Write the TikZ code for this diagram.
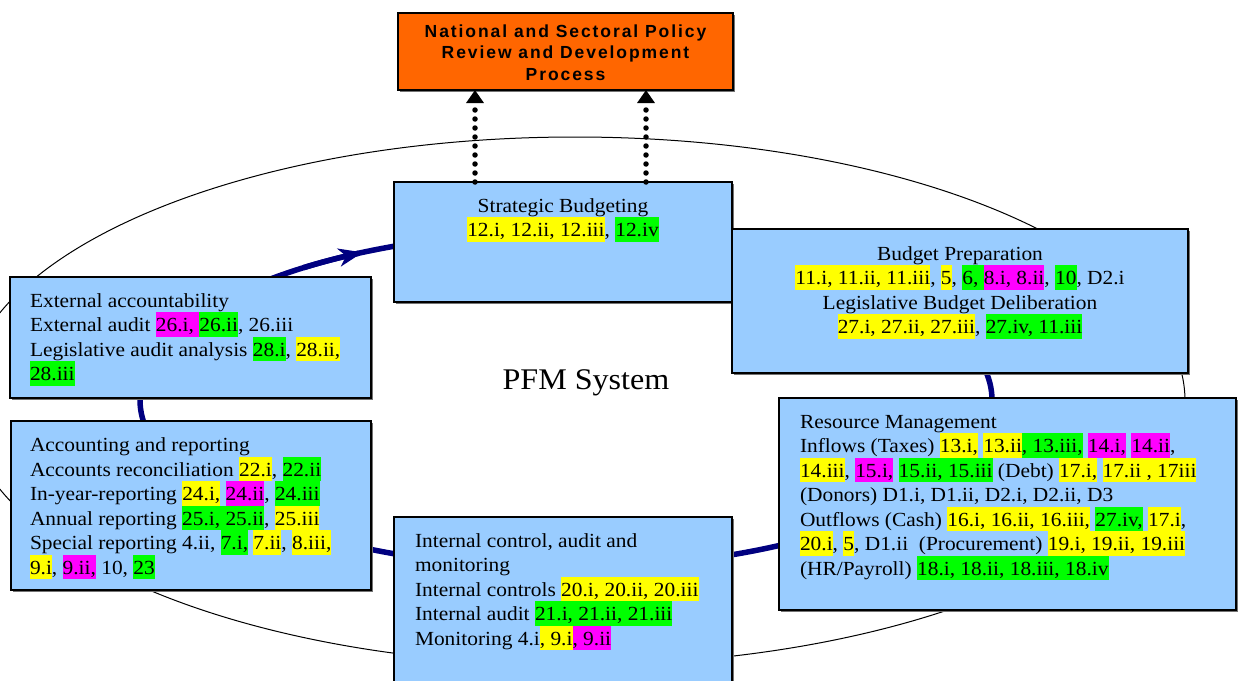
\documentclass[tikz,border=0pt]{standalone}
\usepackage{fontspec}
\setmainfont{Liberation Serif}[FakeStretch=1.07]
\newfontfamily\headfont{Liberation Sans}[LetterSpace=11]
\usetikzlibrary{arrows.meta,shadows}
\definecolor{boxblue}{HTML}{99CCFF}
\definecolor{orangebox}{HTML}{FF6600}
\definecolor{navyring}{HTML}{000080}
\definecolor{hyel}{HTML}{FFFF00}
\definecolor{hgrn}{HTML}{00FF00}
\definecolor{hmag}{HTML}{FF00FF}
\newcommand\st{\rule[-5pt]{0pt}{24.5pt}}
\newcommand\hy[1]{{\setlength{\fboxsep}{0pt}\colorbox{hyel}{\st#1}}}
\newcommand\hg[1]{{\setlength{\fboxsep}{0pt}\colorbox{hgrn}{\st#1}}}
\newcommand\hm[1]{{\setlength{\fboxsep}{0pt}\colorbox{hmag}{\st#1}}}
\begin{document}
\begin{tikzpicture}[x=1pt,y=-1pt,
  box/.style={draw=black, line width=1.6pt, fill=boxblue, inner sep=0pt, outer sep=0pt, anchor=north west,
    drop shadow={shadow xshift=1.5pt, shadow yshift=-1.5pt, fill=black!55, opacity=1}},
  hbox/.style={box, fill=orangebox},
  txt/.style={inner sep=0pt, outer sep=0pt, font=\fontsize{20}{24.5}\selectfont},
  ring/.style={draw=navyring, line width=5.5pt},
  dotarrow/.style={line width=5.5pt, line cap=round, dash pattern=on 0pt off 9pt,
    -{Triangle[width=17pt,length=13pt]}}]
\useasboundingbox (0,0) rectangle (1238,680);
\clip (0,0) rectangle (1238,680);
% outer thin ellipse and inner ring
\draw[line width=1pt] (575,401) ellipse [x radius=610, y radius=264];
\draw[ring] (566,400) ellipse [x radius=426, y radius=168];
\draw[ring, -{Stealth[length=24pt,width=18pt,inset=7pt]}]
  plot[domain=128:118.5, samples=12, smooth] ({566+426*cos(\x)},{400-168*sin(\x)});
% boxes
\node[hbox, minimum width=335pt, minimum height=77pt] (op) at (398,13) {};
\node[box, minimum width=338pt, minimum height=120pt] (sb) at (394,182) {};
\node[box, minimum width=456pt, minimum height=144pt] (bp) at (732,229) {};
\node[box, minimum width=361pt, minimum height=121pt] (ea) at (10,277) {};
\node[box, minimum width=360pt, minimum height=169pt] (ar) at (11,421) {};
\node[box, minimum width=338pt, minimum height=190pt] (ic) at (394,517) {};
\node[box, minimum width=457pt, minimum height=212pt] (rm) at (779,398) {};
% dotted arrows
\coordinate (d1) at (475,0);
\coordinate (d2) at (646,0);
\draw[dotarrow] (sb.north -| d1) -- (op.south -| d1);
\draw[dotarrow] (sb.north -| d2) -- (op.south -| d2);
% texts
\node[inner sep=0pt, anchor=north, align=center, font=\headfont\bfseries\fontsize{17.5}{21.5}\selectfont] (opT) at (565.5,24)
  {\rule{0pt}{13pt}National and Sectoral Policy\\Review and Development\\Process};
\node[txt, anchor=north, align=center] (sbT) at (563,192.5)
  {\st Strategic Budgeting\\\st\hy{12.i, 12.ii, 12.iii}, \hg{12.iv}};
\node[txt, anchor=north, align=center] (bpT) at (960,240.5)
  {\st Budget Preparation\\
   \st\hy{11.i, 11.ii, 11.iii}, \hy{5}, \hg{6,\ }\hm{8.i, 8.ii}, \hg{10}, D2.i\\
   \st Legislative Budget Deliberation\\
   \st\hy{27.i, 27.ii, 27.iii}, \hg{27.iv, 11.iii}};
\node[txt, anchor=north west, align=left] (eaT) at (30,287.5)
  {\st External accountability\\
   \st External audit \hm{26.i,\ }\hg{26.ii}, 26.iii\\
   \st Legislative audit analysis \hg{28.i}, \hy{28.ii,}\\
   \st\hg{28.iii}};
\node[txt, anchor=north west, align=left] (arT) at (30,432.2)
  {\st Accounting and reporting\\
   \st Accounts reconciliation \hy{22.i}, \hg{22.ii}\\
   \st In-year-reporting \hy{24.i,} \hm{24.ii}, \hg{24.iii}\\
   \st Annual reporting \hg{25.i, 25.ii}, \hy{25.iii}\\
   \st Special reporting 4.ii, \hg{7.i,} \hy{7.ii}, \hy{8.iii,}\\
   \st\hy{9.i}, \hm{9.ii,} 10, \hg{23}};
\node[txt, anchor=north west, align=left] (icT) at (415,527.5)
  {\st Internal control, audit and\\
   \st monitoring\\
   \st Internal controls \hy{20.i, 20.ii, 20.iii}\\
   \st Internal audit \hg{21.i, 21.ii, 21.iii}\\
   \st Monitoring 4.i\hy{, 9.i}\hm{, 9.ii}};
\node[txt, anchor=north west, align=left] (rmT) at (800,408.5)
  {\st Resource Management\\
   \st Inflows (Taxes) \hy{13.i,} \hy{13.ii}\hg{, 13.iii,} \hm{14.i,} \hm{14.ii},\\
   \st\hy{14.iii}, \hm{15.i,} \hg{15.ii, 15.iii} (Debt) \hy{17.i,} \hy{17.ii , 17iii}\\
   \st (Donors) D1.i, D1.ii, D2.i, D2.ii, D3\\
   \st Outflows (Cash) \hy{16.i, 16.ii, 16.iii,} \hg{27.iv,} \hy{17.i},\\
   \st\hy{20.i}, \hy{5}, D1.ii\ \ (Procurement) \hy{19.i, 19.ii, 19.iii}\\
   \st (HR/Payroll) \hg{18.i, 18.ii, 18.iii, 18.iv}};
\node[inner sep=0pt, anchor=base, font=\fontsize{30}{36}\selectfont] (pfm) at (586,389) {PFM System};
\end{tikzpicture}
\end{document}
